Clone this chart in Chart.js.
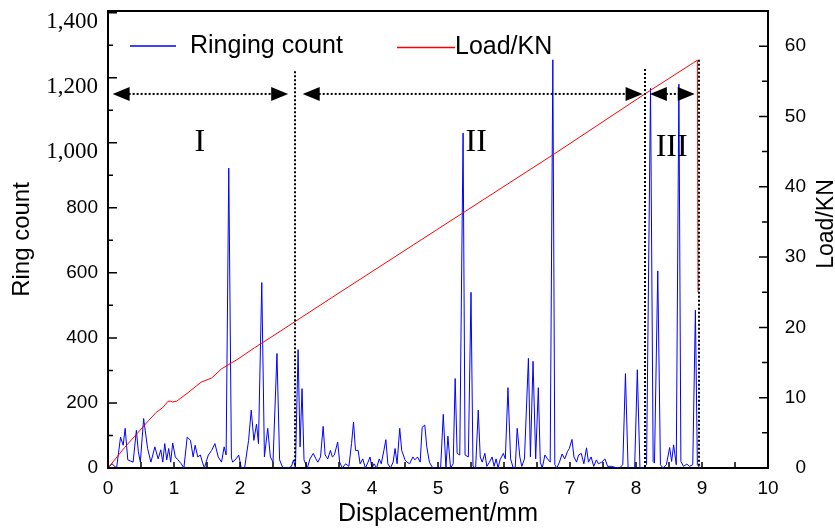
<!DOCTYPE html>
<html>
<head>
<meta charset="utf-8">
<script src="https://cdn.jsdelivr.net/npm/chart.js@4.4.1/dist/chart.umd.min.js"></script>
<style>
  body { margin: 0; background: #fff; }
</style>
</head>
<body>
<canvas id="aeChart" width="835" height="532"></canvas>
<script>
// ringing count vs displacement (mm)
const displacement = [
  0, 0.06, 0.13, 0.19, 0.23, 0.26, 0.30, 0.38, 0.43, 0.46, 0.49, 0.54, 0.60, 0.65, 0.71, 0.76, 0.80, 0.83, 0.86, 0.89,
  0.92, 0.95, 0.98, 1.02, 1.06, 1.11, 1.15, 1.20, 1.25, 1.29, 1.32, 1.36, 1.40, 1.43, 1.46, 1.52, 1.57, 1.62, 1.67, 1.72,
  1.76, 1.79, 1.83, 1.87, 1.89, 1.94, 1.98, 2.02, 2.07, 2.13, 2.17, 2.21, 2.25, 2.28, 2.33, 2.37, 2.42, 2.46, 2.50, 2.56,
  2.60, 2.65, 2.73, 2.78, 2.81, 2.84, 2.88, 2.91, 2.94, 2.97, 3.02, 3.06, 3.11, 3.15, 3.18, 3.22, 3.26, 3.29, 3.33, 3.37,
  3.40, 3.43, 3.48, 3.51, 3.55, 3.60, 3.65, 3.69, 3.72, 3.75, 3.79, 3.82, 3.86, 3.90, 3.94, 3.97, 4.00, 4.03, 4.07, 4.11,
  4.14, 4.18, 4.21, 4.24, 4.28, 4.32, 4.35, 4.38, 4.42, 4.45, 4.50, 4.53, 4.57, 4.62, 4.65, 4.69, 4.73, 4.76, 4.80, 4.83,
  4.87, 4.92, 5.00, 5.04, 5.08, 5.12, 5.15, 5.19, 5.23, 5.26, 5.29, 5.33, 5.38, 5.41, 5.46, 5.50, 5.53, 5.57, 5.61, 5.64,
  5.67, 5.71, 5.74, 5.78, 5.82, 5.85, 5.88, 5.91, 5.94, 5.99, 6.02, 6.06, 6.10, 6.14, 6.17, 6.20, 6.24, 6.27, 6.31, 6.37,
  6.40, 6.44, 6.48, 6.52, 6.55, 6.58, 6.62, 6.66, 6.70, 6.74, 6.77, 6.80, 6.84, 6.88, 6.92, 6.96, 6.99, 7.03, 7.06, 7.10,
  7.13, 7.17, 7.21, 7.25, 7.28, 7.32, 7.36, 7.40, 7.43, 7.48, 7.53, 7.57, 7.63, 7.68, 7.75, 7.80, 7.84, 7.88, 7.96, 7.98,
  8.02, 8.06, 8.11, 8.16, 8.22, 8.26, 8.28, 8.33, 8.37, 8.41, 8.46, 8.51, 8.54, 8.57, 8.61, 8.65, 8.68, 8.72, 8.77, 8.81,
  8.86, 8.90, 8.93, 8.97
];
const ringCount = [
  0, 13, 0, 95, 70, 122, 25, 18, 116, 50, 18, 152, 60, 18, 65, 28, 56, 18, 75, 25,
  60, 18, 77, 34, 25, 13, 0, 95, 85, 34, 70, 34, 40, 18, 0, 40, 54, 75, 34, 18,
  65, 40, 922, 30, 18, 28, 40, 0, 0, 85, 178, 85, 135, 75, 570, 34, 122, 34, 18, 352,
  25, 0, 0, 5, 25, 0, 364, 65, 244, 25, 0, 28, 45, 28, 18, 34, 128, 40, 28, 54,
  34, 40, 80, 18, 0, 13, 5, 75, 141, 54, 54, 13, 28, 0, 18, 34, 0, 13, 0, 28,
  13, 54, 87, 13, 0, 18, 60, 13, 122, 54, 25, 18, 13, 34, 25, 34, 18, 125, 132, 65,
  18, 0, 0, 0, 165, 0, 98, 0, 13, 275, 45, 40, 1030, 40, 34, 540, 5, 0, 178, 34,
  18, 45, 5, 18, 34, 5, 28, 0, 25, 45, 28, 247, 28, 0, 0, 122, 34, 5, 28, 337,
  34, 328, 28, 247, 18, 0, 40, 28, 18, 1255, 10, 0, 18, 43, 28, 50, 60, 88, 34, 18,
  40, 45, 13, 62, 18, 34, 5, 25, 13, 18, 28, 5, 5, 2, 0, 10, 290, 0, 0, 5,
  302, 0, 0, 10, 1168, 20, 15, 606, 10, 0, 10, 63, 20, 71, 10, 1180, 20, 5, 12, 5,
  10, 485, 10, 0
];
// load (KN) vs displacement (mm)
const loadDisp = [0, 0.25, 0.45, 0.61, 0.73, 0.83, 0.91, 0.95, 0.98, 1.04, 1.21, 1.41, 1.57, 1.72, 1.97, 2.22, 2.47, 3.5, 5.0, 6.75, 8.15, 8.93, 8.94];
const loadKN = [0, 2.9, 5.0, 6.7, 7.9, 8.6, 9.5, 9.5, 9.4, 9.5, 10.7, 12.2, 12.8, 14.1, 15.5, 17.1, 18.6, 24.9, 34.0, 44.6, 53.3, 58.0, 25.0];

const dispTicks = [0, 1, 2, 3, 4, 5, 6, 7, 8, 9, 10];
const countTicks = [0, 200, 400, 600, 800, 1000, 1200, 1400];
const loadTicks = [0, 10, 20, 30, 40, 50, 60];

// stage marks (mm / ring count units)
const stageDividers = [2.84, 8.14, 8.95];
const dividerTops = [1220, 1227, 1255];
const stageArrows = [[0.07, 2.73], [2.95, 8.10], [8.21, 8.89]];
const arrowLevel = 1150;
const stageNames = ['I', 'II', 'III'];
const stageNameX = [1.39, 5.58, 8.54];
const stageNameY = [999, 999, 986];

const SANS = '"Liberation Sans", Arial, sans-serif';
const SERIF = '"Liberation Serif", "Times New Roman", serif';

const noPad = (s) => { s.paddingTop = 0; s.paddingBottom = 0; s.paddingLeft = 0; s.paddingRight = 0; };

const decor = {
  id: 'decor',
  afterDraw(chart) {
    const { ctx, chartArea: a, scales: { x, y, y2 } } = chart;
    ctx.save();
    ctx.strokeStyle = '#000';
    ctx.fillStyle = '#000';

    // top frame line
    ctx.lineWidth = 2;
    ctx.beginPath();
    ctx.moveTo(a.left - 1, a.top);
    ctx.lineTo(a.right + 1, a.top);
    ctx.stroke();

    // inward ticks
    ctx.lineWidth = 1.5;
    ctx.beginPath();
    for (let v = 0; v <= 1400; v += 100) {
      const py = y.getPixelForValue(v);
      ctx.moveTo(a.left, py);
      ctx.lineTo(a.left + (v % 200 ? 5 : 9), py);
    }
    for (let v = 0; v <= 60; v += 5) {
      const py = y2.getPixelForValue(v);
      ctx.moveTo(a.right, py);
      ctx.lineTo(a.right - (v % 10 ? 6 : 9), py);
    }
    for (let v = 0; v <= 10; v += 0.5) {
      const px = x.getPixelForValue(v);
      ctx.moveTo(px, a.bottom);
      ctx.lineTo(px, a.bottom - 6);
    }
    ctx.stroke();

    // dotted stage dividers
    ctx.lineWidth = 2;
    ctx.setLineDash([2, 2]);
    ctx.beginPath();
    stageDividers.forEach((d, i) => {
      const px = Math.round(x.getPixelForValue(d));
      ctx.moveTo(px, y.getPixelForValue(dividerTops[i]));
      ctx.lineTo(px, a.bottom);
    });
    ctx.stroke();

    // dotted double arrows
    const ay = y.getPixelForValue(arrowLevel);
    stageArrows.forEach(([from, to]) => {
      const x1 = x.getPixelForValue(from);
      const x2 = x.getPixelForValue(to);
      ctx.setLineDash([2, 2]);
      ctx.beginPath();
      ctx.moveTo(x1 + 16, ay);
      ctx.lineTo(x2 - 16, ay);
      ctx.stroke();
      ctx.setLineDash([]);
      ctx.beginPath();
      ctx.moveTo(x1, ay);
      ctx.lineTo(x1 + 17, ay - 7);
      ctx.lineTo(x1 + 17, ay + 7);
      ctx.closePath();
      ctx.moveTo(x2, ay);
      ctx.lineTo(x2 - 17, ay - 7);
      ctx.lineTo(x2 - 17, ay + 7);
      ctx.closePath();
      ctx.fill();
    });

    // stage names
    ctx.font = '32px ' + SERIF;
    ctx.textAlign = 'center';
    ctx.textBaseline = 'middle';
    stageNames.forEach((n, i) => {
      ctx.fillText(n, x.getPixelForValue(stageNameX[i]), y.getPixelForValue(stageNameY[i]));
    });

    // legend
    ctx.setLineDash([]);
    ctx.lineWidth = 1.5;
    ctx.strokeStyle = chart.data.datasets[0].borderColor;
    ctx.beginPath();
    ctx.moveTo(130, 46);
    ctx.lineTo(176, 46);
    ctx.stroke();
    ctx.strokeStyle = chart.data.datasets[1].borderColor;
    ctx.beginPath();
    ctx.moveTo(397, 47.5);
    ctx.lineTo(455, 47.5);
    ctx.stroke();
    ctx.font = '25px ' + SANS;
    ctx.textAlign = 'left';
    ctx.fillText(chart.data.datasets[0].label, 190, 46);
    ctx.fillText(chart.data.datasets[1].label, 455, 47);

    // right axis title, reading bottom to top
    ctx.font = '23px ' + SANS;
    ctx.textAlign = 'center';
    ctx.textBaseline = 'alphabetic';
    ctx.translate(833, 224);
    ctx.rotate(-Math.PI / 2);
    ctx.fillText('Load/KN', 0, 0);
    ctx.restore();
  }
};

const ctx = document.getElementById('aeChart').getContext('2d');

new Chart(ctx, {
  type: 'line',
  data: {
    datasets: [
      {
        label: 'Ringing count',
        data: displacement.map((d, i) => ({ x: d, y: ringCount[i] })),
        borderColor: '#0000ff',
        borderWidth: 1,
        pointRadius: 0,
        yAxisID: 'y',
        order: 1,
      },
      {
        label: 'Load/KN',
        data: loadDisp.map((d, i) => ({ x: d, y: loadKN[i] })),
        borderColor: '#ff0000',
        borderWidth: 1,
        pointRadius: 0,
        yAxisID: 'y2',
        order: 0,
      },
    ],
  },
  options: {
    responsive: false,
    animation: false,
    layout: { padding: { top: 11, right: 29, left: 0, bottom: 0 } },
    plugins: {
      legend: { display: false },
      tooltip: { enabled: false },
    },
    scales: {
      x: {
        type: 'linear',
        min: 0,
        max: 10,
        afterBuildTicks: (s) => { s.ticks = dispTicks.map((v) => ({ value: v })); },
        afterFit: (s) => { s.height = 64; noPad(s); },
        ticks: { color: '#000', font: { family: SANS, size: 19 }, padding: 9, autoSkip: false, maxRotation: 0 },
        grid: { drawOnChartArea: false, drawTicks: false },
        border: { color: '#000', width: 2 },
        title: {
          display: true,
          text: 'Displacement/mm',
          color: '#000',
          font: { family: SANS, size: 25 },
          padding: { top: 0, bottom: 3 },
        },
      },
      y: {
        position: 'left',
        min: 0,
        max: 1405,
        afterBuildTicks: (s) => { s.ticks = countTicks.map((v) => ({ value: v })); },
        afterFit: (s) => { s.width = 108; noPad(s); },
        ticks: {
          color: '#000',
          padding: 10,
          callback: (v) => (v >= 1000 ? ['', v.toLocaleString('en-US')] : String(v)),
          font: (c) => (c.tick && c.tick.value >= 1000
            ? { family: SERIF, size: 23, lineHeight: 0.78 }
            : { family: SANS, size: 19 }),
        },
        grid: { drawOnChartArea: false, drawTicks: false },
        border: { color: '#000', width: 2 },
        title: {
          display: true,
          text: 'Ring count',
          color: '#000',
          font: { family: SANS, size: 24 },
          padding: { top: 8, bottom: 0 },
        },
      },
      y2: {
        position: 'right',
        min: 0,
        max: 65,
        afterBuildTicks: (s) => { s.ticks = loadTicks.map((v) => ({ value: v })); },
        afterFit: (s) => { s.width = 38; noPad(s); },
        ticks: { color: '#000', font: { family: SANS, size: 19 }, crossAlign: 'far' },
        grid: { drawOnChartArea: false, drawTicks: false },
        border: { color: '#000', width: 2 },
      },
    },
  },
  plugins: [decor],
});
</script>
</body>
</html>
